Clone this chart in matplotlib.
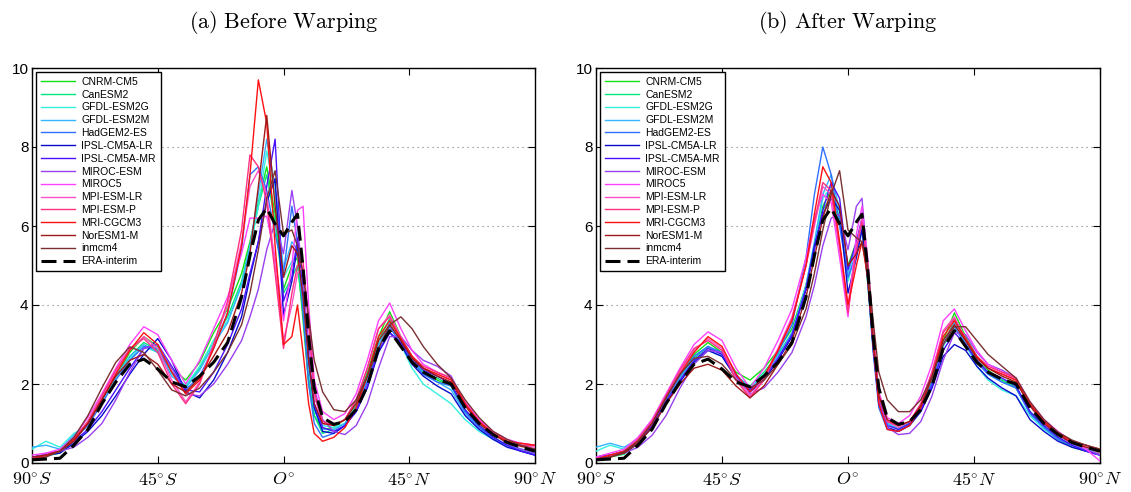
import matplotlib
matplotlib.use("Agg")
import matplotlib.pyplot as plt
import numpy as np

plt.rcParams["mathtext.fontset"] = "cm"
plt.rcParams["font.family"] = ["Liberation Sans", "DejaVu Sans"]

# Latitude grid (degrees, south negative)
lat = [-90, -85, -80, -75, -70, -65, -60, -55, -50, -45, -40, -35, -30, -25, -20, -15,
       -12, -9, -6, -3, 0, 3, 5, 7, 9, 11, 14, 18, 22, 26,
       30, 34, 38, 42, 46, 50, 55, 60, 65, 70, 75, 80, 85, 90]

models = ["CNRM-CM5", "CanESM2", "GFDL-ESM2G", "GFDL-ESM2M", "HadGEM2-ES",
          "IPSL-CM5A-LR", "IPSL-CM5A-MR", "MIROC-ESM", "MIROC5", "MPI-ESM-LR",
          "MPI-ESM-P", "MRI-CGCM3", "NorESM1-M", "inmcm4"]

colors = ["#11e011", "#00e67a", "#33f0e0", "#33b5ff", "#3070ff",
          "#0a0acc", "#4a10ff", "#9a40f0", "#ff40ff", "#ff50c8",
          "#ff3080", "#ff1010", "#a01818", "#7a3030"]

era = [0.08, 0.1, 0.12, 0.45, 0.85, 1.5, 2.05, 2.5, 2.63, 2.38, 2.05, 1.93, 2.2, 2.55, 3.05, 4.2,
       5.25, 6.15, 6.45, 6.05, 5.75, 6.1, 6.3, 4.95, 3.2, 1.9, 1.15, 0.98, 1.05, 1.35,
       1.95, 2.9, 3.35, 2.95, 2.55, 2.3, 2.12, 2.0, 1.4, 1.0, 0.72, 0.52, 0.4, 0.3]

# (a) before warping
cnrm_a = [0.15, 0.2, 0.3, 0.6, 1.05, 1.6, 2.2, 2.8, 3.2, 2.95, 2.4, 2.1, 2.55, 3.3, 3.9, 4.8,
          5.6, 6.6, 7.5, 6.3, 4.4, 5.0, 5.2, 3.6, 2.0, 1.2, 0.85, 0.9, 1.1, 1.55,
          2.3, 3.2, 3.83, 3.2, 2.7, 2.35, 2.1, 1.95, 1.3, 0.95, 0.65, 0.45, 0.3, 0.25]
canesm_a = [0.12, 0.18, 0.25, 0.55, 1.0, 1.55, 2.15, 2.7, 3.05, 2.85, 2.3, 1.95, 2.4, 3.1, 3.7, 4.6,
            5.5, 6.5, 7.3, 6.1, 4.3, 4.7, 5.0, 3.8, 2.2, 1.2, 0.75, 0.85, 1.0, 1.45,
            2.2, 3.1, 3.65, 3.1, 2.6, 2.3, 2.15, 1.95, 1.35, 0.95, 0.65, 0.45, 0.3, 0.25]
gfdlg_a = [0.35, 0.55, 0.4, 0.75, 0.95, 1.55, 2.15, 2.65, 2.95, 2.8, 2.25, 1.95, 2.45, 3.1, 3.6, 4.5,
           5.4, 6.5, 7.9, 6.8, 4.7, 5.1, 5.3, 4.0, 2.4, 1.4, 0.95, 0.9, 1.0, 1.4,
           2.1, 3.0, 3.5, 3.0, 2.4, 2.0, 1.75, 1.5, 1.1, 0.8, 0.6, 0.45, 0.35, 0.3]
gfdlm_a = [0.4, 0.45, 0.35, 0.7, 1.0, 1.6, 2.2, 2.7, 3.0, 2.8, 2.2, 1.9, 2.35, 3.0, 3.55, 4.5,
           5.5, 6.8, 8.2, 7.0, 4.9, 5.6, 5.4, 4.2, 2.5, 1.35, 0.85, 0.85, 1.0, 1.4,
           2.1, 3.0, 3.55, 3.05, 2.55, 2.25, 2.05, 1.85, 1.25, 0.9, 0.6, 0.45, 0.35, 0.25]
hadgem_a = [0.15, 0.2, 0.3, 0.6, 0.95, 1.5, 2.1, 2.6, 2.95, 2.9, 2.3, 1.85, 2.2, 2.9, 3.8, 5.4,
            7.3, 7.5, 6.9, 5.8, 4.8, 6.5, 5.6, 3.8, 2.0, 1.0, 0.65, 0.75, 0.95, 1.35,
            2.05, 2.9, 3.45, 3.0, 2.6, 2.25, 2.05, 1.95, 1.3, 0.9, 0.65, 0.45, 0.3, 0.2]
ipsllr_a = [0.15, 0.2, 0.25, 0.5, 0.8, 1.2, 1.7, 2.25, 2.75, 3.15, 2.6, 1.8, 1.65, 2.1, 2.8, 3.7,
            4.7, 5.6, 6.6, 7.2, 3.75, 4.6, 5.5, 4.5, 2.6, 1.4, 0.8, 0.75, 0.95, 1.3,
            1.9, 2.8, 3.3, 3.0, 2.5, 2.2, 1.95, 1.75, 1.2, 0.85, 0.6, 0.4, 0.3, 0.2]
ipslmr_a = [0.15, 0.2, 0.3, 0.55, 0.85, 1.3, 1.85, 2.4, 2.9, 3.0, 2.45, 1.85, 1.8, 2.3, 3.0, 3.9,
            4.8, 5.6, 7.0, 8.2, 4.1, 4.7, 5.7, 4.6, 2.7, 1.5, 0.9, 0.8, 0.95, 1.3,
            1.95, 2.85, 3.3, 3.05, 2.65, 2.35, 2.2, 2.0, 1.35, 0.95, 0.65, 0.45, 0.3, 0.2]
mirocesm_a = [0.1, 0.25, 0.3, 0.4, 0.65, 1.0, 1.6, 2.3, 2.9, 3.0, 2.4, 1.75, 1.7, 2.0, 2.5, 3.1,
              3.7, 4.4, 5.4, 6.1, 5.3, 6.9, 6.0, 4.6, 3.0, 1.9, 1.1, 0.8, 0.72, 0.95,
              1.5, 2.4, 3.2, 3.2, 2.85, 2.6, 2.45, 2.2, 1.5, 1.05, 0.75, 0.5, 0.35, 0.25]
miroc5_a = [0.2, 0.25, 0.35, 0.65, 1.15, 1.75, 2.4, 3.0, 3.45, 3.25, 2.6, 2.0, 2.6, 3.4, 4.2, 5.3,
            6.2, 6.2, 6.25, 5.2, 3.6, 5.0, 6.4, 6.5, 4.0, 2.1, 1.3, 1.1, 1.25, 1.75,
            2.6, 3.6, 4.05, 3.4, 2.85, 2.5, 2.3, 2.15, 1.55, 1.1, 0.8, 0.6, 0.5, 0.45]
mpilr_a = [0.12, 0.2, 0.3, 0.6, 1.05, 1.65, 2.3, 2.85, 3.2, 2.9, 2.1, 1.55, 2.05, 3.0, 4.0, 5.6,
           7.0, 7.4, 6.8, 5.0, 3.1, 4.0, 4.8, 5.0, 3.5, 1.7, 1.0, 0.95, 1.1, 1.6,
           2.4, 3.4, 3.75, 3.2, 2.7, 2.4, 2.25, 2.1, 1.5, 1.05, 0.75, 0.55, 0.45, 0.4]
mpip_a = [0.1, 0.18, 0.3, 0.6, 1.05, 1.7, 2.35, 2.9, 3.15, 2.8, 2.0, 1.5, 2.0, 3.0, 4.1, 5.9,
          7.8, 7.5, 6.6, 4.8, 2.9, 4.3, 5.0, 5.1, 3.6, 1.8, 1.05, 0.95, 1.1, 1.6,
          2.4, 3.4, 3.7, 3.15, 2.7, 2.45, 2.3, 2.15, 1.5, 1.05, 0.75, 0.55, 0.45, 0.45]
mri_a = [0.1, 0.2, 0.3, 0.6, 1.0, 1.6, 2.25, 2.85, 3.3, 3.0, 2.3, 1.75, 2.1, 2.9, 3.8, 5.5,
         7.3, 9.7, 8.6, 5.5, 3.0, 3.2, 4.0, 2.8, 1.5, 0.75, 0.55, 0.65, 0.9, 1.4,
         2.2, 3.2, 3.6, 3.15, 2.7, 2.4, 2.25, 2.1, 1.5, 1.05, 0.75, 0.55, 0.5, 0.45]
noresm_a = [0.15, 0.2, 0.3, 0.55, 1.0, 1.6, 2.2, 2.6, 2.75, 2.5, 2.0, 1.8, 2.15, 2.7, 3.3, 4.3,
            5.3, 7.0, 8.8, 6.5, 4.7, 5.5, 5.3, 4.2, 2.6, 1.5, 1.0, 0.95, 1.1, 1.5,
            2.2, 3.1, 3.5, 3.1, 2.65, 2.4, 2.2, 2.05, 1.45, 1.0, 0.72, 0.52, 0.42, 0.35]
inm_a = [0.1, 0.15, 0.3, 0.65, 1.2, 1.9, 2.55, 2.94, 2.8, 2.35, 1.85, 1.7, 1.9, 2.3, 2.8, 3.5,
         4.3, 5.4, 6.7, 7.4, 5.8, 5.9, 5.5, 4.8, 3.7, 2.6, 1.8, 1.35, 1.3, 1.6,
         2.2, 2.9, 3.5, 3.7, 3.4, 2.95, 2.5, 2.15, 1.6, 1.15, 0.8, 0.6, 0.45, 0.35]

# (b) after warping
cnrm_b = [0.12, 0.15, 0.25, 0.5, 0.95, 1.6, 2.2, 2.75, 3.05, 2.8, 2.3, 2.1, 2.4, 2.85, 3.4, 4.5,
          5.5, 6.5, 6.9, 6.2, 5.0, 5.6, 6.0, 4.6, 2.9, 1.6, 1.0, 0.9, 1.05, 1.4,
          2.05, 3.1, 3.8, 3.2, 2.7, 2.35, 2.1, 1.9, 1.3, 0.9, 0.6, 0.4, 0.3, 0.25]
canesm_b = [0.1, 0.15, 0.22, 0.5, 0.9, 1.55, 2.15, 2.65, 2.95, 2.75, 2.2, 1.95, 2.3, 2.75, 3.3, 4.4,
            5.4, 6.4, 6.75, 6.1, 4.9, 5.5, 5.9, 4.7, 3.0, 1.6, 1.0, 0.85, 1.0, 1.35,
            2.0, 3.0, 3.6, 3.1, 2.6, 2.3, 2.1, 1.95, 1.3, 0.95, 0.65, 0.45, 0.3, 0.25]
gfdlg_b = [0.3, 0.45, 0.35, 0.6, 0.95, 1.6, 2.15, 2.6, 2.85, 2.7, 2.2, 1.9, 2.25, 2.7, 3.25, 4.4,
           5.5, 6.7, 7.0, 6.3, 4.6, 5.4, 6.0, 4.8, 3.0, 1.6, 1.0, 0.9, 1.0, 1.35,
           2.0, 2.95, 3.45, 3.0, 2.45, 2.1, 1.85, 1.7, 1.2, 0.85, 0.6, 0.45, 0.35, 0.3]
gfdlm_b = [0.4, 0.5, 0.4, 0.6, 1.0, 1.65, 2.2, 2.7, 2.95, 2.75, 2.2, 1.85, 2.2, 2.7, 3.3, 4.5,
           5.6, 6.8, 7.3, 6.4, 4.8, 5.5, 6.1, 4.8, 3.0, 1.6, 1.0, 0.85, 1.0, 1.35,
           2.0, 3.0, 3.55, 3.05, 2.55, 2.25, 2.05, 1.9, 1.25, 0.9, 0.6, 0.45, 0.35, 0.2]
hadgem_b = [0.15, 0.2, 0.3, 0.55, 1.0, 1.6, 2.2, 2.7, 2.95, 2.8, 2.25, 1.85, 2.2, 2.8, 3.5, 5.2,
            6.8, 8.0, 7.3, 6.0, 4.7, 5.3, 6.0, 4.6, 2.8, 1.4, 0.85, 0.8, 0.95, 1.35,
            2.05, 3.0, 3.45, 3.0, 2.55, 2.25, 2.05, 1.9, 1.25, 0.9, 0.6, 0.45, 0.3, 0.2]
ipsllr_b = [0.15, 0.2, 0.25, 0.5, 0.9, 1.5, 2.05, 2.55, 2.85, 2.7, 2.15, 1.8, 2.1, 2.6, 3.2, 4.4,
            5.5, 6.3, 6.7, 6.4, 4.3, 5.2, 5.9, 4.7, 2.9, 1.5, 0.9, 0.8, 0.95, 1.3,
            1.9, 2.7, 3.0, 2.85, 2.45, 2.15, 1.9, 1.7, 1.1, 0.8, 0.55, 0.4, 0.3, 0.2]
ipslmr_b = [0.15, 0.2, 0.3, 0.55, 0.95, 1.55, 2.1, 2.6, 2.9, 2.75, 2.2, 1.85, 2.15, 2.65, 3.25, 4.4,
            5.4, 6.4, 7.1, 6.7, 4.9, 5.6, 6.2, 4.9, 3.0, 1.6, 0.95, 0.85, 1.0, 1.35,
            1.95, 2.85, 3.3, 3.0, 2.6, 2.3, 2.15, 1.95, 1.3, 0.95, 0.65, 0.45, 0.3, 0.2]
mirocesm_b = [0.1, 0.2, 0.25, 0.4, 0.7, 1.2, 1.9, 2.5, 2.85, 2.8, 2.25, 1.75, 1.9, 2.3, 2.8, 3.7,
              4.5, 5.5, 6.2, 6.3, 5.4, 6.5, 6.7, 5.0, 3.0, 1.6, 0.9, 0.72, 0.75, 1.05,
              1.7, 2.6, 3.3, 3.25, 2.8, 2.5, 2.35, 2.15, 1.45, 1.0, 0.7, 0.5, 0.35, 0.2]
miroc5_b = [0.15, 0.25, 0.35, 0.65, 1.1, 1.75, 2.4, 3.0, 3.32, 3.1, 2.4, 1.9, 2.4, 3.1, 3.9, 5.2,
            6.2, 6.8, 6.6, 5.2, 3.7, 5.8, 6.5, 5.2, 3.3, 1.8, 1.15, 1.0, 1.2, 1.7,
            2.5, 3.6, 3.9, 3.35, 2.85, 2.5, 2.3, 2.15, 1.55, 1.1, 0.8, 0.55, 0.35, 0.05]
mpilr_b = [0.12, 0.18, 0.3, 0.6, 1.05, 1.7, 2.3, 2.85, 3.15, 2.9, 2.15, 1.7, 2.15, 2.9, 3.7, 5.0,
           6.0, 7.0, 6.8, 5.4, 4.0, 5.5, 6.2, 5.0, 3.2, 1.7, 1.05, 0.9, 1.05, 1.5,
           2.3, 3.35, 3.7, 3.15, 2.7, 2.4, 2.25, 2.1, 1.5, 1.05, 0.75, 0.55, 0.4, 0.25]
mpip_b = [0.1, 0.15, 0.28, 0.6, 1.05, 1.7, 2.35, 2.9, 3.1, 2.85, 2.1, 1.65, 2.1, 2.85, 3.65, 5.0,
          6.1, 7.1, 6.9, 5.5, 3.8, 5.4, 6.1, 5.1, 3.3, 1.75, 1.05, 0.95, 1.05, 1.5,
          2.3, 3.3, 3.65, 3.1, 2.7, 2.45, 2.3, 2.15, 1.5, 1.05, 0.75, 0.55, 0.45, 0.3]
mri_b = [0.1, 0.2, 0.3, 0.55, 1.0, 1.65, 2.25, 2.8, 3.2, 2.95, 2.25, 1.8, 2.2, 2.85, 3.6, 5.0,
         6.3, 7.5, 7.1, 5.6, 4.0, 5.0, 5.6, 4.7, 3.0, 1.5, 0.85, 0.8, 0.95, 1.4,
         2.2, 3.2, 3.6, 3.15, 2.7, 2.4, 2.25, 2.1, 1.5, 1.05, 0.75, 0.55, 0.45, 0.35]
noresm_b = [0.1, 0.15, 0.25, 0.5, 0.9, 1.5, 2.0, 2.4, 2.5, 2.35, 1.95, 1.65, 1.95, 2.5, 3.1, 4.2,
            5.2, 6.2, 6.9, 6.5, 5.0, 5.3, 5.6, 4.8, 3.1, 1.7, 1.1, 0.95, 1.05, 1.45,
            2.15, 3.1, 3.5, 3.1, 2.65, 2.4, 2.2, 2.05, 1.45, 1.0, 0.72, 0.5, 0.4, 0.3]
inm_b = [0.1, 0.15, 0.28, 0.55, 1.0, 1.65, 2.25, 2.65, 2.7, 2.5, 2.1, 1.9, 2.1, 2.5, 3.0, 3.9,
         4.8, 5.9, 6.8, 7.4, 5.9, 5.7, 5.6, 5.0, 3.6, 2.3, 1.6, 1.3, 1.3, 1.6,
         2.2, 3.0, 3.45, 3.45, 3.1, 2.75, 2.45, 2.15, 1.55, 1.1, 0.78, 0.58, 0.45, 0.35]

before = [cnrm_a, canesm_a, gfdlg_a, gfdlm_a, hadgem_a, ipsllr_a, ipslmr_a,
          mirocesm_a, miroc5_a, mpilr_a, mpip_a, mri_a, noresm_a, inm_a]
after = [cnrm_b, canesm_b, gfdlg_b, gfdlm_b, hadgem_b, ipsllr_b, ipslmr_b,
         mirocesm_b, miroc5_b, mpilr_b, mpip_b, mri_b, noresm_b, inm_b]

xticks = [-90, -45, 0, 45, 90]
xticklabels = [r"$90^{\circ}S$", r"$45^{\circ}S$", r"$O^{\circ}$", r"$45^{\circ}N$", r"$90^{\circ}N$"]
yticks = [0, 2, 4, 6, 8, 10]
titles = [r"$\mathrm{(a)\ Before\ Warping}$", r"$\mathrm{(b)\ After\ Warping}$"]

W, H = 1131, 492
fig = plt.figure(figsize=(W / 100, H / 100), dpi=100)
ax1 = fig.add_axes([32 / W, 29 / H, 503 / W, 395 / H])
ax2 = fig.add_axes([596 / W, 29 / H, 504 / W, 395 / H])

for ax, data, title in zip([ax1, ax2], [before, after], titles):
    for name, col, vals in zip(models, colors, data):
        ax.plot(lat, vals, color=col, lw=1.0, label=name, zorder=3)
    ax.plot(lat, era, color="black", lw=2.2, dashes=(4.9, 2.3), label="ERA-interim", zorder=4)

    ax.set_xlim(-90, 90)
    ax.set_ylim(0, 10)
    ax.set_xticks(xticks)
    ax.set_xticklabels(xticklabels, fontsize=13)
    ax.set_yticks(yticks)
    ax.set_yticklabels([str(t) for t in yticks], fontsize=11)
    ax.tick_params(direction="in", length=5, width=0.8, top=True, right=True)
    ax.tick_params(axis="x", pad=6.5)
    ax.tick_params(axis="y", pad=2.5)
    ax.grid(axis="y", color="#777777", linestyle=(0, (1, 3.5)), lw=0.8, zorder=0)
    for s in ax.spines.values():
        s.set_linewidth(1.0)

    leg = ax.legend(loc="upper left", fontsize=7.5, handlelength=3.3, labelspacing=0.27,
                    borderaxespad=0.4, fancybox=False, framealpha=1, edgecolor="black",
                    borderpad=0.45, handletextpad=0.6)
    leg.get_frame().set_linewidth(1.0)

    pos = ax.get_position()
    fig.text(pos.x0 + pos.width / 2, 1 - 22 / H, title, ha="center", va="center", fontsize=16)

fig.savefig("out.png", dpi=100)
